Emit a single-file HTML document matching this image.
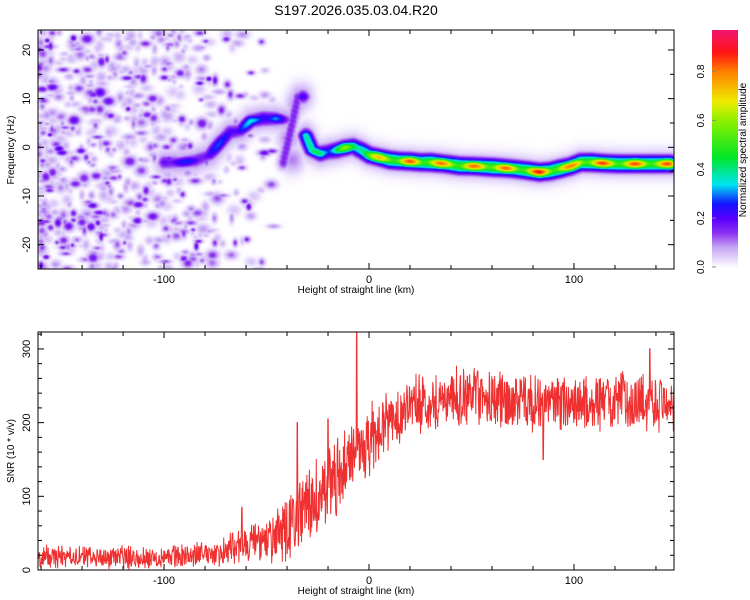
<!DOCTYPE html>
<html><head><meta charset="utf-8"><style>
body{margin:0;background:#fff;width:750px;height:600px;overflow:hidden;font-family:"Liberation Sans",sans-serif}
#wrap{position:relative;width:750px;height:600px}
canvas{position:absolute}
svg{position:absolute;left:0;top:0}
</style></head><body><div id="wrap">
<canvas id="hm" width="636" height="239" style="left:38px;top:30px"></canvas>
<canvas id="cb" width="26" height="238" style="left:712px;top:30px"></canvas>
<svg id="s" width="750" height="600"></svg>
</div>
<script>
// ---- data ----
const ridgeH   = [-100,-92,-85,-78,-72,-68,-63,-58,-52,-46,-42,-40,-38,-36,-34,-31,-28,-24,-20,-16,-12,-8,-4,0,5,10,15,20,25,30,37,44,52,60,64,70,76,83,88,93,98,103,108,115,122,130,138,147];
const ridgeF   = [-3,-3,-2.6,-1.5,1.5,3.2,3.5,5.5,6,6,5.8,2,-2.5,9,10.5,2.5,-0.5,-1.2,-0.8,-0.5,0,0.3,-0.5,-1.5,-2,-2.5,-2.7,-2.8,-3,-3,-3.3,-3.7,-3.8,-4,-4.1,-4.3,-4.6,-5,-4.8,-4.3,-3.8,-3,-3,-3.2,-3.3,-3.3,-3.3,-3.3];
const ridgeAmp = [0.3,0.25,0.3,0.25,0.3,0.35,0.3,0.35,0.4,0.35,0.2,0.15,0.15,0.15,0.2,0.45,0.4,0.5,0.45,0.55,0.6,0.55,0.65,0.7,0.75,0.85,0.8,0.85,0.8,0.88,0.8,0.85,0.82,0.9,0.85,0.8,0.85,0.9,0.85,0.88,0.8,0.85,0.9,0.85,0.85,0.85,0.85,0.85];
const snrH      = [-160,-150,-140,-130,-120,-110,-100,-90,-80,-70,-60,-50,-40,-30,-20,-10,0,10,20,30,40,50,60,70,80,90,100,110,120,130,140,150];
const snrMean   = [18,18,17,17,18,17,18,20,22,25,38,35,55,85,110,150,175,205,222,228,235,235,232,228,226,228,226,225,230,230,230,225];
const snrSpread = [18,18,18,18,18,18,18,18,20,24,32,34,50,60,65,60,55,48,45,45,45,45,45,45,45,45,45,45,45,45,45,45];
const spikeH = [-6,-35,-62,-20,53,85,137];
const spikeV = [323,200,85,205,270,150,300];
const xTicks=[-100,0,100], fTicks=[20,10,0,-10,-20], snrTicks=[0,100,200,300], cbTicks=[0,0.2,0.4,0.6,0.8];

// ---- scales ----
const X0=38,X1=674,H0=-161.5,H1=148.8;
const xs=h=>X0+(h-H0)/(H1-H0)*(X1-X0);
const F0=-25,F1=24.1,TY0=30,TY1=269;
const fy=f=>TY1-(f-F0)/(F1-F0)*(TY1-TY0);
const BY0=332,BY1=570,S1=323;
const sy=v=>BY1-v/S1*(BY1-BY0);

const stops=[[0,[255,255,255]],[0.03,[232,220,252]],[0.08,[200,170,245]],[0.14,[140,50,240]],[0.2,[90,0,255]],[0.26,[20,20,255]],[0.34,[0,230,240]],[0.45,[0,230,40]],[0.6,[140,240,0]],[0.68,[240,235,0]],[0.8,[255,130,0]],[0.88,[255,20,20]],[1,[240,20,140]]];
function cmap(v){v=Math.max(0,Math.min(1,v));for(let i=1;i<stops.length;i++){if(v<=stops[i][0]){const a=stops[i-1],b=stops[i],t=(v-a[0])/(b[0]-a[0]);return a[1].map((c,k)=>Math.round(c+(b[1][k]-c)*t));}}return stops[stops.length-1][1];}

// seeded texture generator (background speckle / noise texture only)
let seed=12345;const rnd=()=>{seed=(seed*16807)%2147483647;return seed/2147483647;};

const W=636,Hh=239,field=new Float32Array(W*Hh);
function blob(cx,cy,sx,sy2,a){const x0=Math.max(0,Math.floor(cx-3*sx)),x1=Math.min(W-1,Math.ceil(cx+3*sx)),y0=Math.max(0,Math.floor(cy-3*sy2)),y1=Math.min(Hh-1,Math.ceil(cy+3*sy2));
for(let y=y0;y<=y1;y++)for(let x=x0;x<=x1;x++){const d=((x-cx)/sx)**2+((y-cy)/sy2)**2;const v=a*Math.exp(-d/2);const i=y*W+x;if(v>field[i])field[i]=v;}}
for(let k=0;k<1150;k++){const h=H0+Math.pow(rnd(),1.4)*135;const f=F0+rnd()*49;const dens=h<-90?0.85:Math.max(0,0.85-(h+90)/60);if(rnd()>dens)continue;
const a=0.05+rnd()*rnd()*0.17;blob(xs(h)-X0,fy(f)-TY0,1.8+rnd()*3,1.5+rnd()*2.5,a);}
for(let i=0;i<ridgeH.length-1;i++){const jump=Math.abs(ridgeF[i+1]-ridgeF[i])>3;const n=jump?2:Math.max(2,Math.round((ridgeH[i+1]-ridgeH[i])*2));
for(let j=0;j<n;j++){const t=j/n;const h=ridgeH[i]+(ridgeH[i+1]-ridgeH[i])*t,f=jump?ridgeF[i]:ridgeF[i]+(ridgeF[i+1]-ridgeF[i])*t,a=ridgeAmp[i]+(ridgeAmp[i+1]-ridgeAmp[i])*t;
const cx=xs(h)-X0,cy=fy(f)-TY0;blob(cx,cy,7,9,0.1);blob(cx,cy,5,5.5,a*0.6);blob(cx,cy,5,4,a*(0.8+0.2*Math.sin(h*0.4)));}}
for(let h=-42;h<=-35;h+=0.5){const f=-3+(h+42)*1.9;blob(xs(h)-X0,fy(f)-TY0,4,5,0.16);}
const hm=document.getElementById('hm').getContext('2d');const img=hm.createImageData(W,Hh);
for(let i=0;i<W*Hh;i++){const c=cmap(field[i]);img.data[i*4]=c[0];img.data[i*4+1]=c[1];img.data[i*4+2]=c[2];img.data[i*4+3]=255;}
hm.putImageData(img,0,0);
const cb=document.getElementById('cb').getContext('2d');
for(let y=0;y<238;y++){const c=cmap(0.97*(1-y/237));cb.fillStyle=`rgb(${c})`;cb.fillRect(0,y,26,1);}

const svg=document.getElementById('s');const NS='http://www.w3.org/2000/svg';
function el(t,a,parent){const e=document.createElementNS(NS,t);for(const k in a)e.setAttribute(k,a[k]);(parent||svg).appendChild(e);return e;}
function txt(x,y,s,a){const e=el('text',Object.assign({x:x,y:y,'font-size':11,fill:'#000','font-family':'Liberation Sans, sans-serif'},a||{}));e.textContent=s;return e;}
const t0=txt(356,15,'S197.2026.035.03.04.R20',{'font-size':14,'text-anchor':'middle'});


function interp(arr,h){if(h<=snrH[0])return arr[0];for(let i=1;i<snrH.length;i++)if(h<=snrH[i]){const t=(h-snrH[i-1])/(snrH[i]-snrH[i-1]);return arr[i-1]+(arr[i]-arr[i-1])*t;}return arr[arr.length-1];}
let pts=[];for(let h=H0;h<=H1;h+=0.2){let v=interp(snrMean,h)+interp(snrSpread,h)*(rnd()*2-1)*(0.5+0.5*rnd());
for(let k=0;k<spikeH.length;k++)if(Math.abs(h-spikeH[k])<0.11)v=spikeV[k];v=Math.max(0,Math.min(S1,v));pts.push(xs(h).toFixed(1)+','+sy(v).toFixed(1));}
const clip=el('clipPath',{id:'bc'});el('rect',{x:X0,y:BY0,width:X1-X0,height:BY1-BY0},clip);
const line=el('polyline',{points:pts.join(' '),fill:'none',stroke:'#ee3030','stroke-width':1,'clip-path':'url(#bc)'});


function frame(y0,y1,name){const r=el('rect',{x:X0,y:y0,width:X1-X0,height:y1-y0,fill:'none',stroke:'#000','stroke-width':1});
for(let h=-160;h<=140;h+=20){const x=xs(h),L=(h%100===0)?6:4;el('line',{x1:x,x2:x,y1:y1,y2:y1-L,stroke:'#000'});el('line',{x1:x,x2:x,y1:y0,y2:y0+L,stroke:'#000'});}
xTicks.forEach(h=>{const t=txt(xs(h),y1+14,String(h),{'text-anchor':'middle'});});
const xt=txt((X0+X1)/2,y1+24,'Height of straight line (km)',{'text-anchor':'middle','font-size':10});}
frame(TY0,TY1,'top-plot-frame');frame(BY0,BY1,'bottom-plot-frame');
for(let f=-25;f<=24;f+=5){const y=fy(f),L=f%10===0?6:4;el('line',{x1:X0,x2:X0+L,y1:y,y2:y,stroke:'#000'});el('line',{x1:X1,x2:X1-L,y1:y,y2:y,stroke:'#000'});}
fTicks.forEach(f=>{const t=txt(30,fy(f),String(f),{'text-anchor':'middle',transform:`rotate(-90 30 ${fy(f)})`});});
const yt1=txt(14,150,'Frequency (Hz)',{'text-anchor':'middle','font-size':10,transform:'rotate(-90 14 150)'});
for(let v=0;v<=320;v+=20){const y=sy(v),L=v%100===0?6:4;el('line',{x1:X0,x2:X0+L,y1:y,y2:y,stroke:'#000'});el('line',{x1:X1,x2:X1-L,y1:y,y2:y,stroke:'#000'});}
snrTicks.forEach(v=>{const t=txt(30,sy(v),String(v),{'text-anchor':'middle',transform:`rotate(-90 30 ${sy(v)})`});});
const yt2=txt(14,451,'SNR (10 * v/v)',{'text-anchor':'middle','font-size':10,transform:'rotate(-90 14 451)'});
cbTicks.forEach(v=>{const y=30+(1-v/0.97)*237;const t=txt(704,y,v.toFixed(1),{'text-anchor':'middle','font-size':10,transform:`rotate(-90 704 ${y})`});
el('line',{x1:712,x2:716,y1:y,y2:y,stroke:'#888'});});
const ct=txt(746,150,'Normalized spectral amplitude',{'text-anchor':'middle','font-size':10,transform:'rotate(-90 746 150)'});
</script></body></html>
